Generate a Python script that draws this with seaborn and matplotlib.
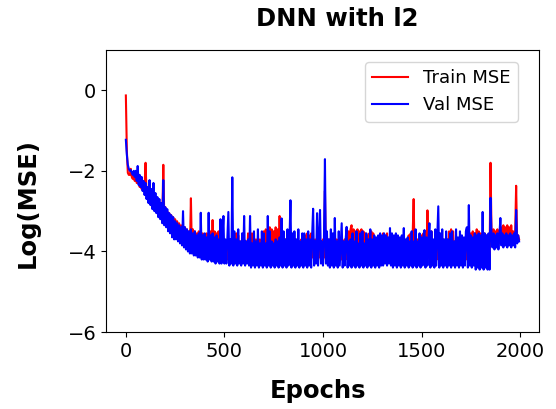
import matplotlib
matplotlib.use('Agg')
import pandas as pd
import matplotlib.pyplot as plt
import seaborn as sns

# one reading every 5 epochs
epochs = list(range(0, 2000, 5))

train_mse = [
    -0.13, -1.5, -2.05, -2.1, -2.1, -1.95, -2.15, -2.2, -2.1, -2.25,
    -2.1, -2.3, -2.3, -2.2, -2.4, -2.3, -2.45, -2.35, -2.5, -2.4,
    -1.8, -2.6, -2.5, -2.7, -2.55, -2.8, -2.6, -2.85, -2.65, -2.9,
    -2.7, -3.0, -2.75, -3.05, -2.8, -3.1, -2.85, -3.15, -1.85, -3.2,
    -2.9, -3.3, -3.0, -3.4, -3.05, -3.45, -3.1, -3.5, -3.15, -3.55,
    -3.2, -3.65, -3.25, -3.7, -3.3, -3.75, -3.35, -3.8, -3.4, -3.85,
    -3.4, -3.9, -3.45, -3.95, -3.5, -3.95, -2.68, -4.0, -3.45, -4.0,
    -3.5, -4.05, -3.55, -4.05, -3.5, -4.1, -3.6, -4.1, -3.55, -4.1,
    -3.6, -4.1, -3.55, -4.15, -3.6, -4.15, -3.5, -4.15, -3.22, -4.15,
    -3.5, -4.15, -3.55, -4.2, -3.5, -4.15, -3.45, -4.2, -3.55, -4.15,
    -3.7, -4.15, -3.75, -4.2, -3.7, -4.15, -3.75, -4.2, -3.7, -4.15,
    -3.7, -4.2, -3.55, -4.15, -3.6, -4.2, -3.75, -4.15, -3.7, -4.2,
    -3.7, -4.15, -3.75, -4.2, -3.55, -4.15, -3.6, -4.2, -3.55, -4.15,
    -3.75, -4.2, -3.7, -4.15, -3.75, -4.2, -3.7, -4.15, -3.75, -4.2,
    -3.5, -4.15, -3.45, -4.2, -3.5, -4.15, -3.4, -4.2, -3.45, -4.15,
    -3.5, -4.2, -3.4, -4.15, -3.45, -4.2, -3.12, -4.15, -3.5, -4.2,
    -3.75, -4.15, -3.7, -4.2, -3.75, -4.15, -3.7, -4.2, -3.75, -4.15,
    -3.7, -4.2, -3.75, -4.15, -3.7, -4.2, -3.75, -4.15, -3.7, -4.2,
    -3.75, -4.15, -3.6, -4.2, -3.55, -4.15, -3.6, -4.2, -3.55, -4.15,
    -3.75, -4.2, -3.7, -4.15, -3.75, -4.2, -3.7, -4.15, -3.75, -4.2,
    -3.7, -4.15, -2.5, -4.2, -3.75, -4.15, -3.7, -4.2, -3.75, -4.15,
    -3.7, -4.2, -3.75, -4.15, -3.7, -4.2, -3.75, -4.15, -3.7, -4.2,
    -3.75, -4.15, -3.7, -4.2, -3.75, -4.15, -3.5, -4.2, -3.45, -3.35,
    -4.15, -3.45, -4.2, -3.5, -4.15, -3.45, -4.2, -3.5, -4.15, -3.45,
    -4.2, -3.5, -4.15, -3.55, -4.2, -3.6, -4.15, -3.55, -4.2, -3.5,
    -4.15, -3.55, -4.2, -3.75, -4.15, -3.7, -4.2, -3.75, -4.15, -3.7,
    -4.2, -3.55, -4.15, -3.6, -4.2, -3.55, -4.15, -3.75, -4.2, -3.7,
    -4.15, -3.75, -4.2, -3.7, -4.15, -3.75, -4.2, -3.7, -4.15, -3.75,
    -4.2, -3.7, -4.15, -3.75, -4.2, -3.7, -4.15, -3.6, -4.2, -3.55,
    -4.15, -3.6, -2.7, -4.2, -3.75, -4.15, -3.7, -4.2, -3.75, -4.15,
    -3.6, -4.2, -3.55, -4.15, -3.5, -4.2, -2.98, -4.15, -3.55, -4.2,
    -3.5, -4.15, -3.75, -4.2, -3.7, -4.15, -3.75, -4.2, -3.7, -4.15,
    -3.75, -4.2, -3.7, -4.15, -3.75, -4.2, -3.7, -4.15, -3.5, -4.2,
    -3.45, -4.15, -3.5, -4.2, -3.75, -4.15, -3.7, -4.2, -3.75, -4.15,
    -3.7, -4.2, -3.75, -4.15, -3.7, -4.2, -3.75, -4.15, -3.7, -4.2,
    -3.55, -4.15, -3.5, -4.2, -3.55, -4.15, -3.45, -4.2, -3.5, -4.15,
    -3.55, -4.2, -3.6, -4.15, -3.55, -4.2, -3.6, -4.2, -3.7, -4.25,
    -1.8, -3.5, -3.8, -3.45, -3.75, -3.5, -3.8, -3.45, -3.75, -3.5,
    -3.8, -3.4, -3.75, -3.35, -3.7, -3.4, -3.75, -3.35, -3.7, -3.4,
    -3.75, -3.35, -3.7, -3.5, -3.8, -3.55, -2.37, -3.75, -3.6, -3.7,
]

val_mse = [
    -1.23, -1.6, -1.85, -1.95, -2.0, -1.98, -2.05, -2.1, -2.0, -2.15,
    -2.0, -2.25, -1.88, -2.35, -2.1, -2.4, -2.15, -2.5, -2.25, -2.6,
    -2.3, -2.7, -2.4, -2.8, -2.23, -2.85, -2.45, -2.95, -2.3, -3.0,
    -2.55, -3.05, -2.65, -3.15, -2.7, -3.2, -2.8, -3.3, -2.23, -3.35,
    -2.9, -3.4, -2.95, -3.5, -3.05, -3.55, -3.1, -3.65, -3.15, -3.7,
    -3.25, -3.7, -3.3, -3.75, -3.35, -3.8, -3.4, -3.85, -3.0, -3.9,
    -3.4, -3.95, -3.45, -4.0, -3.5, -4.05, -3.45, -4.05, -3.55, -4.1,
    -3.5, -4.1, -3.6, -4.15, -3.55, -4.15, -3.04, -4.2, -3.6, -4.2,
    -3.55, -4.2, -3.65, -4.25, -3.04, -4.2, -3.6, -4.25, -3.55, -4.25,
    -3.65, -4.3, -3.6, -4.25, -3.7, -4.3, -3.2, -4.3, -3.65, -3.12,
    -4.3, -3.7, -4.3, -3.65, -3.02, -4.35, -3.7, -4.3, -2.16, -4.35,
    -3.5, -4.3, -3.7, -4.35, -3.45, -4.3, -3.75, -4.35, -3.55, -4.3,
    -3.12, -4.35, -3.75, -4.3, -3.7, -4.35, -3.12, -4.4, -3.8, -4.35,
    -3.5, -4.4, -3.75, -4.35, -3.45, -4.4, -3.8, -4.35, -3.5, -4.4,
    -3.55, -4.35, -3.8, -4.4, -3.12, -4.35, -3.5, -4.4, -3.75, -4.35,
    -3.8, -4.4, -3.7, -4.35, -3.75, -4.4, -3.65, -4.35, -3.18, -4.4,
    -3.5, -4.35, -3.7, -4.4, -3.45, -4.35, -3.75, -2.73, -4.4, -3.55,
    -4.35, -3.5, -4.4, -3.7, -4.35, -3.45, -4.4, -3.75, -4.35, -3.55,
    -4.4, -3.55, -4.35, -3.7, -4.4, -3.5, -4.35, -3.7, -4.4, -3.6,
    -2.94, -4.35, -3.75, -4.3, -3.05, -4.35, -3.7, -2.97, -4.3, -3.75,
    -4.35, -3.7, -1.71, -4.3, -3.5, -4.35, -3.7, -4.4, -3.45, -4.35,
    -3.55, -4.4, -3.17, -4.35, -3.75, -4.4, -3.5, -4.35, -3.8, -3.3,
    -4.4, -3.75, -4.35, -3.7, -3.39, -4.4, -3.75, -4.35, -3.7, -4.4,
    -3.55, -4.35, -3.75, -4.4, -3.5, -4.35, -3.8, -4.4, -3.55, -4.35,
    -3.5, -4.4, -3.8, -4.35, -3.55, -4.4, -3.7, -4.35, -3.45, -4.4,
    -3.7, -4.35, -3.6, -4.4, -3.65, -4.35, -3.6, -4.4, -3.55, -4.35,
    -3.6, -4.35, -3.55, -4.3, -3.6, -4.35, -3.65, -4.3, -3.42, -4.35,
    -3.55, -4.4, -3.6, -4.35, -3.55, -4.4, -3.6, -4.35, -3.65, -4.4,
    -3.6, -4.35, -3.42, -4.4, -3.7, -4.35, -3.65, -4.4, -3.75, -4.35,
    -3.5, -4.4, -3.75, -4.35, -3.45, -4.4, -3.75, -4.35, -3.55, -4.4,
    -3.65, -4.35, -3.6, -3.47, -4.4, -3.65, -4.35, -3.7, -3.3, -4.4,
    -3.5, -4.35, -3.7, -4.4, -3.45, -4.35, -3.65, -2.88, -4.4, -3.55,
    -4.35, -3.45, -4.4, -3.7, -4.35, -3.5, -4.4, -3.7, -4.35, -3.55,
    -4.4, -3.5, -4.35, -3.75, -4.4, -3.45, -4.35, -3.65, -4.4, -3.5,
    -4.35, -3.6, -4.4, -3.65, -4.35, -3.5, -3.4, -4.4, -2.85, -4.35,
    -3.6, -4.4, -3.65, -4.35, -3.55, -4.45, -3.6, -4.4, -3.55, -4.45,
    -3.6, -4.4, -3.02, -4.45, -3.55, -4.4, -3.6, -4.45, -3.55, -4.45,
    -2.67, -3.6, -3.9, -3.55, -3.95, -3.6, -3.9, -3.55, -3.95, -3.6,
    -3.17, -3.85, -3.55, -3.9, -3.6, -3.85, -3.55, -3.9, -3.6, -3.85,
    -3.55, -3.9, -3.6, -3.85, -3.55, -3.9, -2.97, -3.8, -3.6, -3.75,
]

y_ticks = [0, -2, -4, -6]
x_ticks = [0, 500, 1000, 1500, 2000]

df = pd.DataFrame({'epoch': epochs, 'train': train_mse, 'val': val_mse})

label_font = {'family': 'DejaVu Sans', 'weight': 'bold', 'size': 17.5}

fig, ax = plt.subplots(figsize=(5.56, 4.09), dpi=100)
fig.subplots_adjust(left=0.191, right=0.969, top=0.878, bottom=0.188)

sns.lineplot(data=df, x='epoch', y='train', color='red', linewidth=1.5,
             label='Train MSE', ax=ax)
sns.lineplot(data=df, x='epoch', y='val', color='blue', linewidth=1.5,
             label='Val MSE', ax=ax)

ax.set_ylim(-6, 1)
ax.set_yticks(y_ticks)
ax.set_xticks(x_ticks)
ax.tick_params(labelsize=14)

ax.set_title('DNN with l2', fontdict=label_font, x=0.535, pad=17)
ax.set_xlabel('Epochs', fontdict=label_font, x=0.49, labelpad=13)
ax.set_ylabel('Log(MSE)', fontdict=label_font, y=0.457, labelpad=20)

ax.legend(loc='upper right', bbox_to_anchor=(0.972, 0.989), fontsize=13)

fig.savefig('out.png', dpi=100)
